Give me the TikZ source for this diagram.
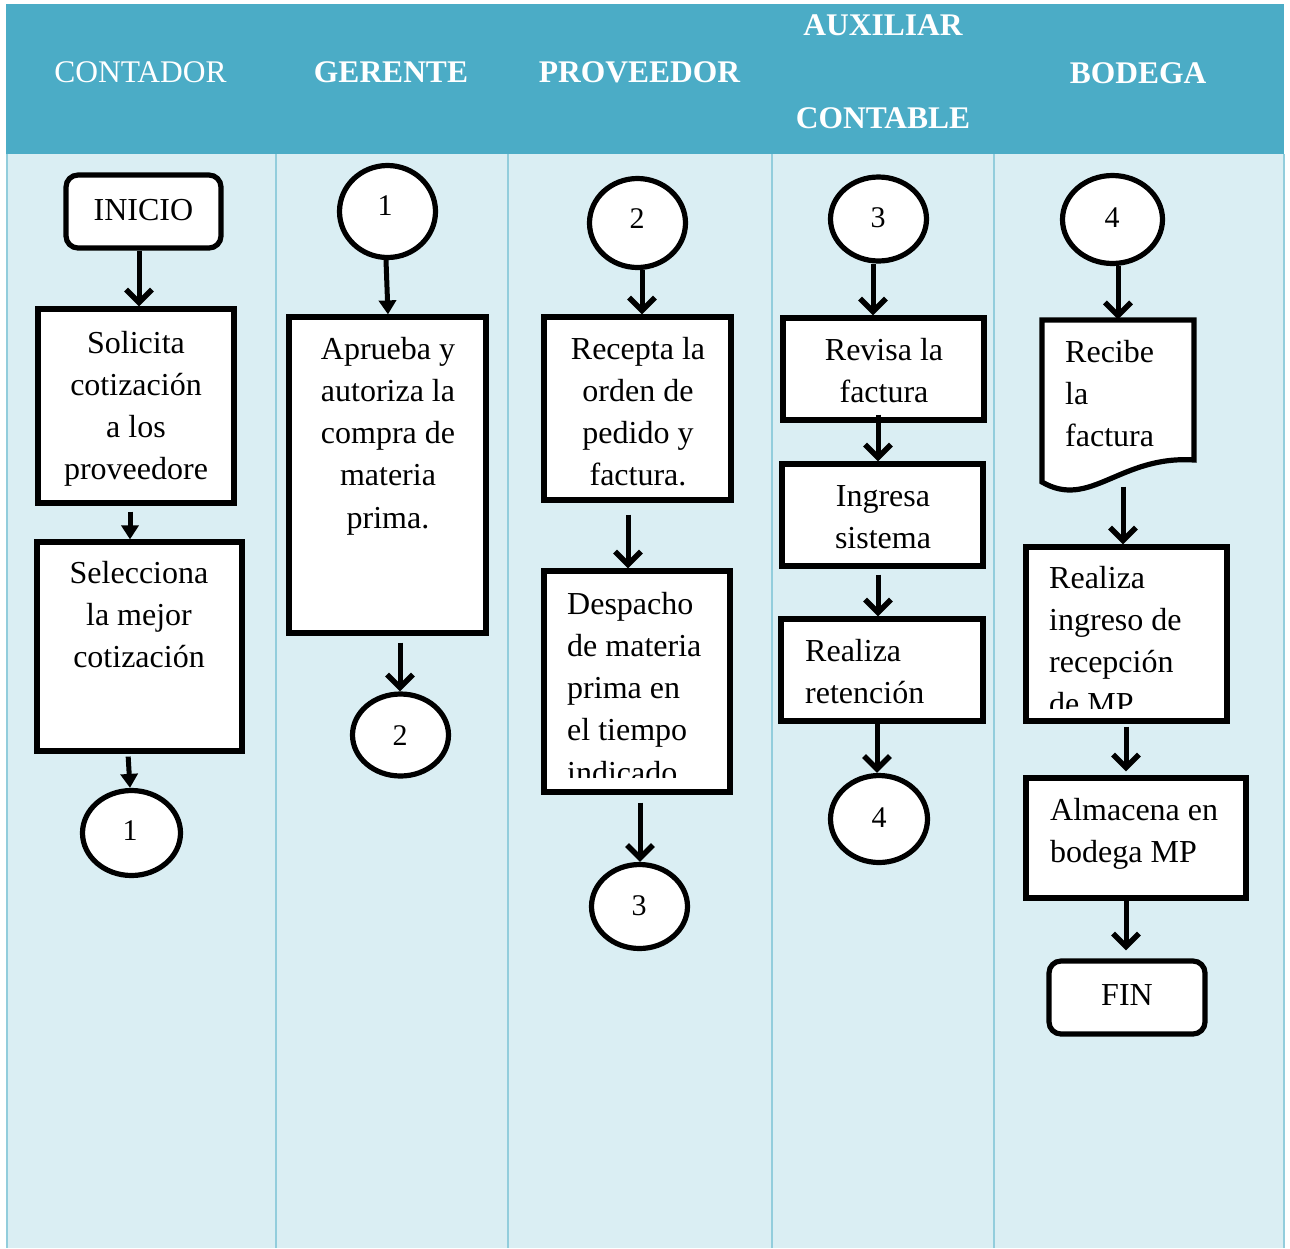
\documentclass[tikz,border=0pt]{standalone}
\usepackage{fontspec}
\setmainfont{Liberation Serif}
\usetikzlibrary{shapes.geometric,arrows.meta}
\definecolor{hdr}{HTML}{4BACC6}
\definecolor{bodyc}{HTML}{DAEEF3}
\definecolor{divc}{HTML}{92CDDC}
\tikzset{
 box/.style={draw=black, line width=5.2pt, fill=white, rectangle, inner sep=0pt},
 term/.style={box, rounded corners=12pt},
 conn/.style={draw=black, line width=5.2pt, fill=white, ellipse, inner sep=0pt},
 txt/.style={inner sep=0pt, anchor=base, font=\fontsize{32}{42.3}\selectfont},
 txtl/.style={txt, anchor=base west},
 num/.style={inner sep=0pt, anchor=base, font=\fontsize{30}{36}\selectfont},
 hd/.style={inner sep=0pt, anchor=base, text=white, font=\fontsize{31.5}{38}\selectfont},
 hdb/.style={hd, font=\fontsize{31.5}{38}\selectfont\bfseries},
 flow/.style={line width=5pt, -{Straight Barb[length=13pt,width=26pt,line width=5.5pt]}},
 flowt/.style={line width=5pt, -{Triangle[length=14pt,width=17pt]}},
}
\newcommand\cent[1]{\begin{tabular}[t]{@{}c@{}}#1\end{tabular}}
\newcommand\lft[1]{\begin{tabular}[t]{@{}l@{}}#1\end{tabular}}
\begin{document}
\begin{tikzpicture}[x=1pt,y=-1pt]
\useasboundingbox (0,0) rectangle (1290,1248);
% lanes
\fill[bodyc] (6,154) rectangle (1284,1248);
\fill[hdr] (6,4) rectangle (1284,154);
\foreach \x in {7,276,508,772,994,1284} \draw[divc, line width=1.5pt] (\x,154) -- (\x,1248);
% headers
\node[hd] (hcont) at (140.5,82) {CONTADOR};
\node[hdb] (hger) at (391,82) {GERENTE};
\node[hdb] (hprov) at (639.5,82) {PROVEEDOR};
\node[hdb] (haux1) at (883,35) {AUXILIAR};
\node[hdb] (haux2) at (883,128) {CONTABLE};
\node[hdb] (hbod) at (1138,83) {BODEGA};
% column 1
\node[term, minimum width=155pt, minimum height=73pt] (inicio) at (143.5,211.5) {};
\node[box, minimum width=196pt, minimum height=194pt] (solicita) at (136,406) {};
\node[box, minimum width=205pt, minimum height=209pt] (selecciona) at (139.5,646.5) {};
\node[conn, minimum width=98pt, minimum height=85pt] (c1a) at (131.5,833) {};
% column 2
\node[conn, minimum width=96pt, minimum height=92pt] (c1b) at (387.5,211.5) {};
\node[box, minimum width=197pt, minimum height=316pt] (aprueba) at (387.5,475) {};
\node[conn, minimum width=96pt, minimum height=82pt] (c2a) at (400.5,735) {};
% column 3
\node[conn, minimum width=96pt, minimum height=89pt] (c2b) at (637.5,223) {};
\node[box, minimum width=187pt, minimum height=183pt] (recepta) at (637.5,408.5) {};
\node[box, minimum width=186pt, minimum height=221pt] (despacho) at (637,681.5) {};
\node[conn, minimum width=96pt, minimum height=84pt] (c3a) at (639.5,906.5) {};
% column 4
\node[conn, minimum width=96pt, minimum height=84pt] (c3b) at (878.5,219) {};
\node[box, minimum width=201pt, minimum height=102pt] (revisa) at (883.5,369) {};
\node[box, minimum width=201pt, minimum height=102pt] (ingresa) at (882.5,515) {};
\node[box, minimum width=202pt, minimum height=102pt] (retencion) at (882,670) {};
\node[conn, minimum width=97pt, minimum height=87pt] (c4a) at (879,819) {};
% column 5
\node[conn, minimum width=100pt, minimum height=88pt] (c4b) at (1112.5,219.5) {};
\node[inner sep=0pt, minimum width=152pt, minimum height=165pt] (recibe) at (1118,402) {};
\draw[line width=5.2pt, fill=white, line join=miter] (1042,482) -- (1042,320) -- (1194,320) -- (1194,460)
  .. controls (1120,455) and (1090,510) .. (1042,482) -- cycle;
\node[box, minimum width=201pt, minimum height=174pt] (ingresomp) at (1126.5,634) {};
\node[box, minimum width=220pt, minimum height=120pt] (almacena) at (1136,838) {};
\node[term, minimum width=156pt, minimum height=73pt] (fin) at (1127,997.5) {};
% connectors
\draw[flow] ([xshift=-4.5pt]inicio.south) -- ([xshift=3pt]solicita.north);
\draw[flowt, shorten <=6pt] ([xshift=-6pt]solicita.south) -- ([xshift=-9.5pt]selecciona.north);
\draw[flowt, shorten <=3pt] ([xshift=-11.5pt]selecciona.south) -- ([xshift=-1.5pt]c1a.north);
\draw[flowt] ([xshift=-1.5pt]c1b.south) -- ([xshift=0.5pt]aprueba.north);
\draw[flow, shorten <=7pt] ([xshift=12.5pt]aprueba.south) -- ([xshift=-0.5pt]c2a.north);
\draw[flow] ([xshift=4.5pt]c2b.south) -- ([xshift=4.5pt]recepta.north);
\draw[flow, shorten <=12pt] ([xshift=-9.5pt]recepta.south) -- ([xshift=-9pt]despacho.north);
\draw[flow, shorten <=8pt] ([xshift=3pt]despacho.south) -- ([xshift=0.5pt]c3a.north);
\draw[flow] ([xshift=-5.5pt]c3b.south) -- ([xshift=-10.5pt]revisa.north);
\draw[flow, shorten <=-8pt] ([xshift=-5.5pt]revisa.south) -- ([xshift=-4.5pt]ingresa.north);
\draw[flow, shorten <=6pt] ([xshift=-4.5pt]ingresa.south) -- ([xshift=-4pt]retencion.north);
\draw[flow] ([xshift=-5pt]retencion.south) -- ([xshift=-2pt]c4a.north);
\draw[flow] ([xshift=5.5pt]c4b.south) -- (recibe.north);
\draw[flow, shorten <=2pt] ([xshift=5pt]recibe.south) -- ([xshift=-3.5pt]ingresomp.north);
\draw[flow, shorten <=3pt, shorten >=4pt] ([xshift=-0.5pt]ingresomp.south) -- ([xshift=-10pt]almacena.north);
\draw[flow, shorten >=8pt] ([xshift=-10pt]almacena.south) -- ([xshift=-1pt]fin.north);
% texts
\node[txt] (tinicio) at (143.5,220) {INICIO};
\node[txt] (tsolicita) at (136,353) {\cent{Solicita\\cotización\\a los\\proveedore}};
\node[txt] (tselecciona) at (139,583) {\cent{Selecciona\\la mejor\\cotización}};
\node[num] (n1a) at (130,840) {1};
\node[num] (n1b) at (385,215) {1};
\node[txt] (taprueba) at (388,359) {\cent{Aprueba y\\autoriza la\\compra de\\materia\\prima.}};
\node[num] (n2a) at (400,745) {2};
\node[num] (n2b) at (637,228) {2};
\node[txt] (trecepta) at (638,359) {\cent{Recepta la\\orden de\\pedido y\\factura.}};
\begin{scope}
\clip (546,573) rectangle (728,777);
\node[txtl] (tdespacho) at (567,614) {\lft{Despacho\\de materia\\prima en\\el tiempo\\indicado}};
\end{scope}
\node[num] (n3a) at (639,915) {3};
\node[num] (n3b) at (878,227) {3};
\node[txt] (trevisa) at (884,360) {\cent{Revisa la\\factura}};
\node[txt] (tingresa) at (883,506) {\cent{Ingresa\\sistema}};
\node[txtl] (tretencion) at (805,661) {\lft{Realiza\\retención}};
\node[num] (n4a) at (879,827) {4};
\node[num] (n4b) at (1112,227) {4};
\node[txtl] (trecibe) at (1065,362) {\lft{Recibe\\la\\factura}};
\begin{scope}
\clip (1028,549) rectangle (1225,708);
\node[txtl] (tingresomp) at (1049,588) {\lft{Realiza\\ingreso de\\recepción\\de MP}};
\end{scope}
\node[txtl] (talmacena) at (1050,820) {\lft{Almacena en\\bodega MP}};
\node[txt] (tfin) at (1127,1005) {FIN};
\end{tikzpicture}
\end{document}
